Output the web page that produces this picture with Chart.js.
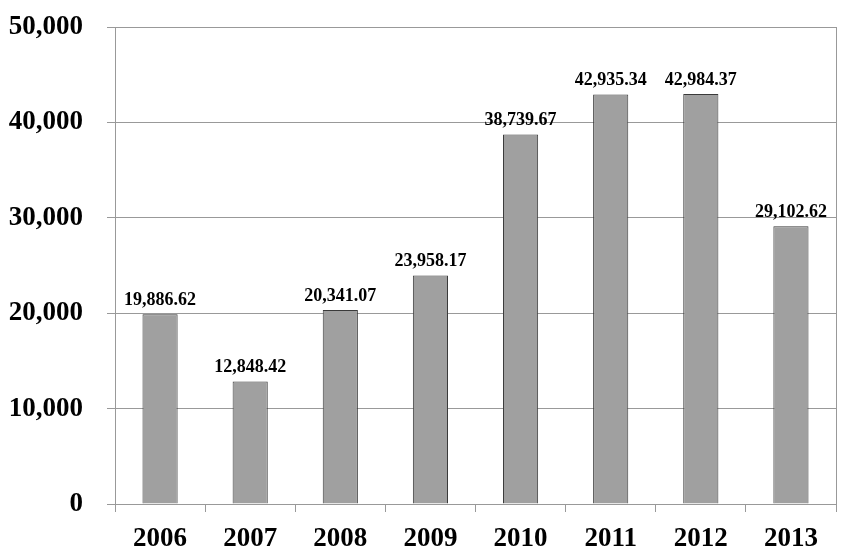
<!DOCTYPE html>
<html>
<head>
<meta charset="utf-8">
<script src="https://cdn.jsdelivr.net/npm/chart.js@4"></script>
<style>
  html, body { margin: 0; padding: 0; background: #fff; }
  #wrap { width: 845px; height: 560px; }
</style>
</head>
<body>
<div id="wrap"><canvas id="chart"></canvas></div>
<script>
var years = ['2006', '2007', '2008', '2009', '2010', '2011', '2012', '2013'];
var values = [19886.62, 12848.42, 20341.07, 23958.17, 38739.67, 42935.34, 42984.37, 29102.62];
var yTicks = [0, 10000, 20000, 30000, 40000, 50000];

var serif = "'Liberation Serif', 'Times New Roman', serif";

function fmt(v, dec) {
  return v.toLocaleString('en-US', { minimumFractionDigits: dec, maximumFractionDigits: dec });
}

// value labels above each bar
var barLabels = {
  id: 'barLabels',
  afterDatasetsDraw: function(chart) {
    var ctx = chart.ctx;
    var meta = chart.getDatasetMeta(0);
    ctx.save();
    ctx.font = 'bold 18px ' + serif;
    ctx.fillStyle = '#000';
    ctx.textAlign = 'center';
    ctx.textBaseline = 'alphabetic';
    meta.data.forEach(function(bar, i) {
      ctx.fillText(fmt(values[i], 2), bar.x, bar.y - 9);
    });
    ctx.restore();
  }
};

var chart = new Chart('chart', {
  type: 'bar',
  data: {
    labels: years,
    datasets: [{
      data: values,
      backgroundColor: '#a0a0a0',
      borderColor: '#3a3a3a',
      borderWidth: 1,
      barPercentage: 0.78,
      categoryPercentage: 0.5
    }]
  },
  options: {
    responsive: true,
    maintainAspectRatio: false,
    animation: false,
    layout: { padding: { top: 0, right: 9, bottom: 4, left: 0 } },
    plugins: {
      legend: { display: false },
      tooltip: { enabled: false }
    },
    scales: {
      x: {
        afterFit: function(scale) { scale.height = 52; },
        grid: {
          offset: true,
          drawOnChartArea: true,
          tickLength: 8,
          tickColor: '#999',
          color: function(c) { return c.index === undefined ? '#999' : 'rgba(0,0,0,0)'; }
        },
        border: { display: true, color: '#999' },
        ticks: {
          color: '#000',
          padding: 11,
          font: { family: serif, size: 27, weight: 'bold' }
        }
      },
      y: {
        min: 0,
        max: 50000,
        afterBuildTicks: function(scale) {
          scale.ticks = yTicks.map(function(v) { return { value: v }; });
        },
        afterFit: function(scale) {
          scale.width = 115;
          scale.paddingTop = 27;
          scale.paddingBottom = 16;
        },
        grid: { color: '#999', tickLength: 8, tickColor: '#999' },
        border: { display: true, color: '#999' },
        ticks: {
          color: '#000',
          padding: 24,
          font: { family: serif, size: 27, weight: 'bold' },
          callback: function(v) { return fmt(v, 0); }
        }
      }
    }
  },
  plugins: [barLabels]
});
</script>
</body>
</html>
